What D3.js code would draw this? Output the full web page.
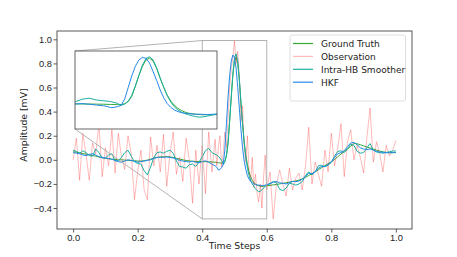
<!DOCTYPE html>
<html>
<head>
<meta charset="utf-8">
<script src="https://cdn.jsdelivr.net/npm/d3@7"></script>
<style>
  body { margin: 0; background: #fff; }
  svg { font-family: "DejaVu Sans", sans-serif; }
</style>
</head>
<body>
<div class="chart"></div>
<script>
// sample times: 0.01 steps, 0.005 steps around the beat
const times = [
  ...d3.range(0, 45).map(i => i / 100),
  ...d3.range(89, 121).map(i => i / 200),
  ...d3.range(61, 101).map(i => i / 100),
];

const groundTruth = [
  0.067, 0.063, 0.058, 0.052, 0.047, 0.042, 0.036, 0.030, 0.024, 0.018,
  0.013, 0.009, 0.006, 0.003, 0.001, 0.000, -0.002, -0.004, -0.006, -0.008,
  -0.010, -0.010, -0.008, -0.002, 0.006, 0.014, 0.020, 0.024, 0.026, 0.026,
  0.024, 0.020, 0.013, 0.006, 0.000, -0.005, -0.009, -0.012, -0.013, -0.014,
  -0.015, -0.015, -0.016, -0.018, -0.020,
  -0.022, -0.024, -0.026, -0.028, -0.025, -0.010, 0.030, 0.130,
  0.320, 0.520, 0.700, 0.820, 0.855, 0.800, 0.660, 0.470,
  0.300, 0.150, 0.040, -0.040, -0.100, -0.140, -0.170, -0.190,
  -0.200, -0.210, -0.215, -0.220, -0.220, -0.220, -0.218, -0.215,
  -0.212, -0.208, -0.204, -0.200, -0.195, -0.190, -0.185, -0.180, -0.175, -0.168,
  -0.158, -0.145, -0.130, -0.115, -0.100, -0.082, -0.065, -0.048, -0.032, -0.016,
  0.003, 0.025, 0.048, 0.070, 0.090, 0.112, 0.135, 0.133, 0.125, 0.116,
  0.106, 0.098, 0.090, 0.080, 0.072, 0.066, 0.062, 0.060, 0.059, 0.060,
];

const observation = [
  0.00, 0.18, -0.17, 0.22, 0.05, -0.17, 0.14, 0.05, 0.30, -0.14,
  0.10, -0.05, 0.25, -0.11, 0.22, 0.02, -0.08, 0.20, 0.05, -0.33,
  -0.10, 0.08, -0.25, -0.33, 0.19, -0.05, 0.12, -0.10, 0.21, -0.22,
  0.05, 0.23, -0.12, 0.02, -0.18, 0.18, 0.00, -0.36, 0.08, -0.20,
  0.12, -0.28, 0.23, -0.10, 0.17,
  -0.05, 0.10, 0.20, -0.06, 0.05, 0.23, 0.10, 0.35,
  0.60, 0.76, 0.85, 0.99, 0.80, 0.90, 0.70, 0.32,
  0.45, 0.10, -0.02, 0.20, -0.10, -0.18, 0.02, -0.23,
  -0.12, -0.28, -0.35, -0.20, -0.40, -0.15, 0.04, -0.25,
  -0.10, -0.49, -0.20, -0.085, -0.20, -0.30, -0.07, -0.25, -0.15, -0.11,
  -0.25, -0.05, 0.27, -0.20, -0.02, -0.12, -0.22, 0.08, -0.10, 0.22,
  -0.05, 0.10, 0.30, -0.14, 0.15, 0.25, 0.00, 0.12, 0.02, -0.11,
  0.18, 0.43, -0.02, 0.15, 0.05, -0.10, 0.12, 0.03, 0.08, 0.16,
];

const intraHB = [
  0.080, 0.070, 0.055, 0.075, 0.060, 0.035, 0.030, 0.090, 0.060, 0.015,
  0.015, 0.040, 0.050, -0.010, -0.005, 0.020, 0.060, 0.080, 0.030, -0.015,
  -0.030, -0.035, -0.090, -0.125, -0.060, 0.020, 0.060, 0.065, 0.055, 0.070,
  0.080, 0.055, -0.010, -0.055, -0.060, -0.070, -0.040, -0.035, -0.055, -0.020,
  0.025, 0.075, 0.095, 0.060, 0.045,
  0.040, 0.030, 0.015, -0.005, -0.040, -0.020, 0.040, 0.150,
  0.330, 0.530, 0.720, 0.850, 0.880, 0.820, 0.670, 0.480,
  0.300, 0.140, 0.020, -0.070, -0.130, -0.170, -0.200, -0.220,
  -0.240, -0.255, -0.265, -0.260, -0.250, -0.235, -0.220, -0.210,
  -0.195, -0.180, -0.190, -0.245, -0.255, -0.235, -0.195, -0.200, -0.210, -0.200,
  -0.180, -0.130, -0.100, -0.125, -0.100, -0.050, -0.045, -0.057, -0.045, -0.020,
  0.030, 0.070, 0.075, 0.060, 0.090, 0.130, 0.120, 0.070, 0.055, 0.060,
  0.100, 0.135, 0.080, 0.065, 0.060, 0.055, 0.060, 0.068, 0.072, 0.075,
];

const hkf = [
  0.060, 0.055, 0.050, 0.040, 0.035, 0.045, 0.050, 0.040, 0.025, 0.020,
  0.015, 0.010, 0.005, -0.005, -0.015, -0.020, -0.010, 0.000, -0.005, -0.012,
  -0.020, -0.015, -0.010, -0.005, 0.000, 0.012, 0.020, 0.022, 0.020, 0.024,
  0.020, 0.015, 0.005, -0.005, -0.010, -0.015, -0.018, -0.012, -0.020, -0.025,
  -0.015, -0.008, -0.020, -0.035, -0.050,
  -0.060, -0.085, -0.080, -0.065, -0.040, 0.080, 0.300, 0.520,
  0.700, 0.820, 0.870, 0.850, 0.760, 0.600, 0.430, 0.250,
  0.100, -0.010, -0.080, -0.130, -0.160, -0.180, -0.190, -0.200,
  -0.205, -0.210, -0.210, -0.212, -0.215, -0.213, -0.210, -0.205,
  -0.200, -0.185, -0.180, -0.190, -0.195, -0.200, -0.190, -0.178, -0.182, -0.175,
  -0.160, -0.140, -0.110, -0.115, -0.100, -0.070, -0.055, -0.055, -0.040, -0.020,
  0.020, 0.050, 0.060, 0.075, 0.110, 0.140, 0.145, 0.125, 0.100, 0.090,
  0.085, 0.090, 0.082, 0.070, 0.065, 0.063, 0.060, 0.058, 0.060, 0.062,
];

const xTicks = [0, 0.2, 0.4, 0.6, 0.8, 1.0];
const yTicks = [-0.4, -0.2, 0, 0.2, 0.4, 0.6, 0.8, 1.0];
const zoomX = [0.4, 0.6];
const zoomY = [-0.49, 0.99];

const series = [
  { name: 'Ground Truth', values: groundTruth, color: '#36a836', opacity: 1, inset: true },
  { name: 'Observation', values: observation, color: '#ff0000', opacity: 0.27, inset: false },
  { name: 'Intra-HB Smoother', values: intraHB, color: '#1cb0a2', opacity: 1, inset: true },
  { name: 'HKF', values: hkf, color: '#2489ea', opacity: 1, inset: true },
];

const W = 457;
const H = 257;
const box = { left: 57, right: 412, top: 31, bottom: 229 };
const ibox = { left: 75, right: 217, top: 51, bottom: 129 };
const fmt = v => d3.format('.1f')(v).replace('-', '\u2212');

const svg = d3
  .select('.chart')
  .append('svg')
  .attr('width', W)
  .attr('height', H);

const x = d3.scaleLinear().domain([-0.05, 1.05]).range([box.left, box.right]);
const y = d3.scaleLinear().domain([-0.574, 1.069]).range([box.bottom, box.top]);
const xi = d3.scaleLinear().domain(zoomX).range([ibox.left, ibox.right]);
const yi = d3.scaleLinear().domain(zoomY).range([ibox.bottom, ibox.top]);

const defs = svg.append('defs');
defs
  .append('clipPath')
  .attr('id', 'clip-main')
  .append('rect')
  .attr('x', box.left)
  .attr('y', box.top)
  .attr('width', box.right - box.left)
  .attr('height', box.bottom - box.top);
defs
  .append('clipPath')
  .attr('id', 'clip-inset')
  .append('rect')
  .attr('x', ibox.left)
  .attr('y', ibox.top)
  .attr('width', ibox.right - ibox.left)
  .attr('height', ibox.bottom - ibox.top);

// axes
const xAxis = svg
  .append('g')
  .attr('transform', `translate(0, ${box.bottom})`)
  .call(d3.axisBottom(x).tickValues(xTicks).tickSize(3.5).tickPadding(2).tickFormat(fmt));
const yAxis = svg
  .append('g')
  .attr('transform', `translate(${box.left}, 0)`)
  .call(d3.axisLeft(y).tickValues(yTicks).tickSize(3.5).tickPadding(1.5).tickFormat(fmt));
[xAxis, yAxis].forEach(a => {
  a.select('.domain').remove();
  a.selectAll('line').attr('stroke', '#333').attr('stroke-width', 0.8);
  a.selectAll('text').attr('fill', '#222').style('font-size', '9.3px');
});

// main lines
const line = d3.line().x((d, i) => x(times[i])).y(d => y(d));
const main = svg.append('g').attr('clip-path', 'url(#clip-main)');
series.forEach(s => {
  main
    .append('path')
    .datum(s.values)
    .attr('fill', 'none')
    .attr('stroke', s.color)
    .attr('stroke-opacity', s.opacity)
    .attr('stroke-width', 1)
    .attr('stroke-linejoin', 'round')
    .attr('d', line);
});

// zoom rectangle and connectors
svg
  .append('rect')
  .attr('x', x(zoomX[0]))
  .attr('y', y(zoomY[1]))
  .attr('width', x(zoomX[1]) - x(zoomX[0]))
  .attr('height', y(zoomY[0]) - y(zoomY[1]))
  .attr('fill', 'none')
  .attr('stroke', '#aaa')
  .attr('stroke-width', 0.9);
svg
  .append('line')
  .attr('x1', ibox.left).attr('y1', ibox.top)
  .attr('x2', x(zoomX[0])).attr('y2', y(zoomY[1]))
  .attr('stroke', '#aaa').attr('stroke-width', 0.9);
svg
  .append('line')
  .attr('x1', ibox.left).attr('y1', ibox.bottom)
  .attr('x2', x(zoomX[0])).attr('y2', y(zoomY[0]))
  .attr('stroke', '#aaa').attr('stroke-width', 0.9);

// inset
svg
  .append('rect')
  .attr('x', ibox.left)
  .attr('y', ibox.top)
  .attr('width', ibox.right - ibox.left)
  .attr('height', ibox.bottom - ibox.top)
  .attr('fill', '#fff');
const iline = d3.line().x((d, i) => xi(times[i])).y(d => yi(d));
const inset = svg.append('g').attr('clip-path', 'url(#clip-inset)');
series.filter(s => s.inset).forEach(s => {
  inset
    .append('path')
    .datum(s.values)
    .attr('fill', 'none')
    .attr('stroke', s.color)
    .attr('stroke-width', 1)
    .attr('stroke-linejoin', 'round')
    .attr('d', iline);
});
svg
  .append('rect')
  .attr('x', ibox.left)
  .attr('y', ibox.top)
  .attr('width', ibox.right - ibox.left)
  .attr('height', ibox.bottom - ibox.top)
  .attr('fill', 'none')
  .attr('stroke', '#555')
  .attr('stroke-width', 0.9);

// frame
svg
  .append('rect')
  .attr('x', box.left)
  .attr('y', box.top)
  .attr('width', box.right - box.left)
  .attr('height', box.bottom - box.top)
  .attr('fill', 'none')
  .attr('stroke', '#444')
  .attr('stroke-width', 0.9);

// labels
svg
  .append('text')
  .attr('x', (box.left + box.right) / 2)
  .attr('y', 249)
  .attr('text-anchor', 'middle')
  .attr('fill', '#222')
  .style('font-size', '9.3px')
  .text('Time Steps');
svg
  .append('text')
  .attr('transform', 'translate(27, 125) rotate(-90)')
  .attr('text-anchor', 'middle')
  .attr('fill', '#222')
  .style('font-size', '9.3px')
  .text('Amplitude [mV]');

// legend
const legend = svg.append('g');
legend
  .append('rect')
  .attr('x', 290)
  .attr('y', 35)
  .attr('width', 115.5)
  .attr('height', 66)
  .attr('rx', 2)
  .attr('fill', '#fff')
  .attr('fill-opacity', 0.8)
  .attr('stroke', '#d6d6d6')
  .attr('stroke-width', 0.8);
series.forEach((s, i) => {
  const ly = 43.5 + i * 12.9;
  legend
    .append('line')
    .attr('x1', 293).attr('x2', 313)
    .attr('y1', ly).attr('y2', ly)
    .attr('stroke', s.color)
    .attr('stroke-opacity', s.opacity)
    .attr('stroke-width', 1.2);
  legend
    .append('text')
    .attr('x', 321)
    .attr('y', ly + 3.3)
    .attr('fill', '#222')
    .style('font-size', '9px')
    .text(s.name);
});
</script>
</body>
</html>
